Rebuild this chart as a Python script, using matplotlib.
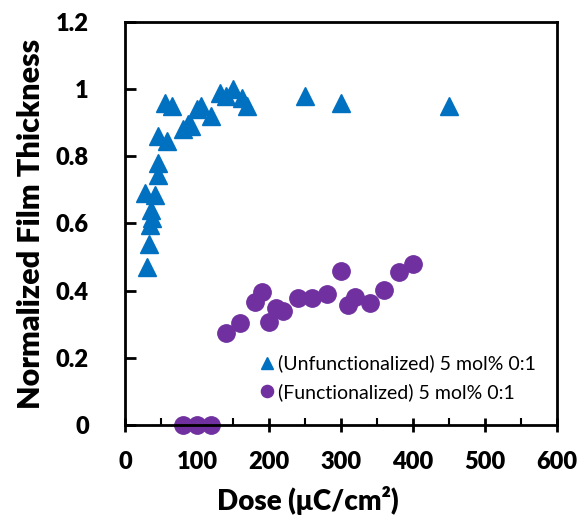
import numpy as np
import matplotlib
matplotlib.use("Agg")
import matplotlib.pyplot as plt
from matplotlib.ticker import MultipleLocator

plt.rcParams['font.family'] = ['Lato', 'DejaVu Sans']

# unfunctionalized resist (triangles)
unf_dose = [30, 33, 35, 37, 36, 28, 42, 46, 46, 46, 58, 55, 65, 80, 87, 92,
            100, 105, 120, 132, 140, 150, 163, 170, 250, 300, 450]
unf_thick = [0.47, 0.54, 0.595, 0.615, 0.64, 0.69, 0.685, 0.745, 0.78, 0.86,
             0.845, 0.96, 0.95, 0.88, 0.895, 0.89, 0.94, 0.95, 0.92, 0.99,
             0.98, 1.0, 0.975, 0.95, 0.98, 0.96, 0.95]

# functionalized resist (circles)
fun_dose = [80, 100, 120, 140, 160, 180, 190, 200, 210, 220, 240, 260, 280,
            300, 310, 320, 340, 360, 380, 400]
fun_thick = [0, 0, 0, 0.273, 0.303, 0.367, 0.395, 0.308, 0.347, 0.34, 0.377,
             0.377, 0.39, 0.459, 0.357, 0.382, 0.364, 0.402, 0.457, 0.479]

fig = plt.figure(figsize=(5.82, 5.19), dpi=100)
ax = fig.add_axes([125/582, 1-425/519, 432/582, 403/519])

ax.plot(unf_dose, unf_thick, linestyle='none', marker='^', ms=13,
        color='#0070C0', label='(Unfunctionalized) 5 mol% 0:1')
ax.plot(fun_dose, fun_thick, linestyle='none', marker='o', ms=12.5,
        color='#7030A0', label='(Functionalized) 5 mol% 0:1', clip_on=False)

ax.set_xlim(0, 600)
ax.set_ylim(0, 1.2)
ax.xaxis.set_major_locator(MultipleLocator(100))
ax.xaxis.set_minor_locator(MultipleLocator(50))
ax.set_yticks([0, 0.2, 0.4, 0.6, 0.8, 1.0, 1.2])
ax.set_yticklabels(['0', '0.2', '0.4', '0.6', '0.8', '1', '1.2'])

for s in ax.spines.values():
    s.set_linewidth(2)
ax.tick_params(axis='x', which='major', direction='inout', length=10, width=2,
               pad=14, labelsize=17)
ax.tick_params(axis='x', which='minor', direction='in', length=5, width=1.5)
ax.tick_params(axis='y', which='major', direction='in', length=8, width=2,
               pad=26, labelsize=17)
ax.tick_params(axis='y', which='minor', left=False)
for lab in ax.get_xticklabels() + ax.get_yticklabels():
    lab.set_fontweight('heavy')

ax.set_xlabel('Dose (μC/cm²)', fontsize=20, fontweight='heavy')
ax.xaxis.set_label_coords(0.424, -0.152)
ax.set_ylabel('Normalized Film Thickness', fontsize=22, fontweight='heavy',
              labelpad=8)

ax.legend(loc='lower left', bbox_to_anchor=(0.29, 0.035), frameon=False,
          fontsize=14, markerscale=0.7, handlelength=0.7, handletextpad=0.2,
          labelspacing=0.55, borderpad=0)

fig.savefig('out.png', dpi=100)
